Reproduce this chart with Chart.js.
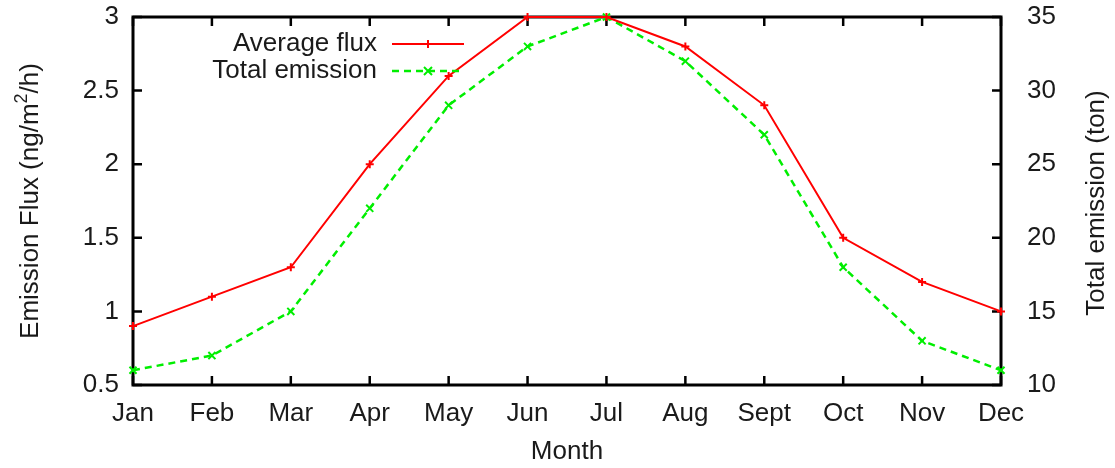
<!DOCTYPE html>
<html>
<head>
<meta charset="utf-8">
<script src="https://cdn.jsdelivr.net/npm/chart.js@4.4.0/dist/chart.umd.min.js"></script>
<style>
  html, body { margin: 0; padding: 0; background: #ffffff; }
  #wrap { width: 1115px; height: 468px; }
</style>
</head>
<body>
<div id="wrap"><canvas id="c" width="1115" height="468"></canvas></div>
<script>
// Monthly emission data
const months = ['Jan', 'Feb', 'Mar', 'Apr', 'May', 'Jun', 'Jul', 'Aug', 'Sept', 'Oct', 'Nov', 'Dec'];
const averageFlux = [0.9, 1.1, 1.3, 2.0, 2.6, 3.0, 3.0, 2.8, 2.4, 1.5, 1.2, 1.0];   // ng/m2/h
const totalEmission = [11, 12, 15, 22, 29, 33, 35, 32, 27, 18, 13, 11];            // ton
const fluxTicks = [0.5, 1, 1.5, 2, 2.5, 3];
const emissionTicks = [10, 15, 20, 25, 30, 35];

const FONT = 'Liberation Sans';
const FONT_SIZE = 26;
const SUP_SIZE = 18;
const TEXT = '#1a1a1a';
const RED = '#ff0000';
const GREEN = '#00ee00';

// Frame with inward tick marks, drawn before the data
const framePlugin = {
  id: 'frame',
  beforeDatasetsDraw(chart) {
    const { ctx, chartArea: a, scales } = chart;
    const L = 9;
    ctx.save();
    ctx.strokeStyle = '#000';
    ctx.lineWidth = 3;
    ctx.lineCap = 'butt';
    ctx.beginPath();
    ctx.rect(a.left, a.top, a.right - a.left, a.bottom - a.top);
    ctx.stroke();
    ctx.lineWidth = 2.5;
    ctx.beginPath();
    months.forEach((m, i) => {
      const x = scales.x.getPixelForValue(i);
      ctx.moveTo(x, a.bottom); ctx.lineTo(x, a.bottom - L);
      ctx.moveTo(x, a.top); ctx.lineTo(x, a.top + L);
    });
    fluxTicks.forEach(v => {
      const y = scales.y.getPixelForValue(v);
      ctx.moveTo(a.left, y); ctx.lineTo(a.left + L, y);
    });
    emissionTicks.forEach(v => {
      const y = scales.y2.getPixelForValue(v);
      ctx.moveTo(a.right, y); ctx.lineTo(a.right - L, y);
    });
    ctx.stroke();
    ctx.restore();
  }
};

// Draws text runs in sequence, centred on (0,0); runs may be raised
function drawRuns(ctx, runs) {
  let total = 0;
  runs.forEach(r => {
    ctx.font = r.size + 'px "' + FONT + '"';
    r.w = ctx.measureText(r.text).width;
    total += r.w;
  });
  let x = -total / 2;
  ctx.textAlign = 'left';
  runs.forEach(r => {
    ctx.font = r.size + 'px "' + FONT + '"';
    ctx.fillText(r.text, x, -(r.rise || 0));
    x += r.w;
  });
}

// Axis titles and the key in the upper left
const labelsPlugin = {
  id: 'labels',
  afterDraw(chart) {
    const { ctx, chartArea: a } = chart;
    ctx.save();
    ctx.fillStyle = TEXT;
    ctx.font = FONT_SIZE + 'px "' + FONT + '"';
    ctx.textBaseline = 'middle';
    ctx.textAlign = 'center';

    ctx.fillText('Month', (a.left + a.right) / 2, 452);

    ctx.save();
    ctx.translate(31, (a.top + a.bottom) / 2);
    ctx.rotate(-Math.PI / 2);
    drawRuns(ctx, [
      { text: 'Emission Flux (ng/m', size: FONT_SIZE },
      { text: '2', size: SUP_SIZE, rise: 9 },
      { text: '/h)', size: FONT_SIZE }
    ]);
    ctx.restore();

    ctx.save();
    ctx.font = FONT_SIZE + 'px "' + FONT + '"';
    ctx.textAlign = 'center';
    ctx.translate(1097, (a.top + a.bottom) / 2 + 2);
    ctx.rotate(-Math.PI / 2);
    ctx.fillText('Total emission (ton)', 0, 0);
    ctx.restore();

    // key
    const rows = [
      { text: 'Average flux', y: 44, color: RED, width: 2, dash: [], style: 'plus' },
      { text: 'Total emission', y: 71, color: GREEN, width: 2.5, dash: [7, 5], style: 'x' }
    ];
    ctx.font = FONT_SIZE + 'px "' + FONT + '"';
    ctx.textAlign = 'right';
    rows.forEach(r => {
      ctx.fillStyle = TEXT;
      ctx.fillText(r.text, 377, r.y);
      ctx.strokeStyle = r.color;
      ctx.lineWidth = r.width;
      ctx.setLineDash(r.dash);
      ctx.beginPath();
      ctx.moveTo(392, r.y); ctx.lineTo(464, r.y);
      ctx.stroke();
      ctx.setLineDash([]);
      const cx = 428, s = 4;
      ctx.lineWidth = 2;
      ctx.beginPath();
      if (r.style === 'plus') {
        ctx.moveTo(cx - s, r.y); ctx.lineTo(cx + s, r.y);
        ctx.moveTo(cx, r.y - s); ctx.lineTo(cx, r.y + s);
      } else {
        ctx.moveTo(cx - s, r.y - s); ctx.lineTo(cx + s, r.y + s);
        ctx.moveTo(cx - s, r.y + s); ctx.lineTo(cx + s, r.y - s);
      }
      ctx.stroke();
    });
    ctx.restore();
  }
};

const tickFont = { family: FONT, size: FONT_SIZE };
const plainNumber = v => String(v);

new Chart(document.getElementById('c'), {
  type: 'line',
  data: {
    labels: months,
    datasets: [
      {
        label: 'Average flux',
        data: averageFlux,
        yAxisID: 'y',
        borderColor: RED,
        backgroundColor: RED,
        borderWidth: 2,
        pointStyle: 'cross',
        pointRadius: 4,
        pointBorderWidth: 2,
        pointBorderColor: RED,
        tension: 0,
        clip: false
      },
      {
        label: 'Total emission',
        data: totalEmission,
        yAxisID: 'y2',
        borderColor: GREEN,
        backgroundColor: GREEN,
        borderWidth: 2.5,
        borderDash: [7, 5],
        pointStyle: 'crossRot',
        pointRadius: 5,
        pointBorderWidth: 2,
        pointBorderColor: GREEN,
        tension: 0,
        clip: false
      }
    ]
  },
  options: {
    responsive: false,
    animation: false,
    devicePixelRatio: 1,
    layout: { padding: { top: 17, left: 0, right: 0, bottom: 0 } },
    plugins: {
      legend: { display: false },
      tooltip: { enabled: false },
      title: { display: false }
    },
    scales: {
      x: {
        type: 'category',
        offset: false,
        grid: { display: false, drawTicks: false },
        border: { display: false },
        ticks: { font: tickFont, color: TEXT, padding: 13, maxRotation: 0, autoSkip: false },
        afterFit(s) { s.height = 83; s.paddingLeft = 0; s.paddingRight = 0; }
      },
      y: {
        position: 'left',
        min: 0.5,
        max: 3,
        grid: { display: false, drawTicks: false },
        border: { display: false },
        afterBuildTicks(s) { s.ticks = fluxTicks.map(v => ({ value: v })); },
        ticks: { font: tickFont, color: TEXT, padding: 14, callback: plainNumber },
        afterFit(s) { s.width = 133; s.paddingTop = 0; s.paddingBottom = 0; }
      },
      y2: {
        position: 'right',
        min: 10,
        max: 35,
        grid: { display: false, drawTicks: false },
        border: { display: false },
        afterBuildTicks(s) { s.ticks = emissionTicks.map(v => ({ value: v })); },
        ticks: { font: tickFont, color: TEXT, padding: 26, callback: plainNumber },
        afterFit(s) { s.width = 114; s.paddingTop = 0; s.paddingBottom = 0; }
      }
    }
  },
  plugins: [framePlugin, labelsPlugin]
});
</script>
</body>
</html>
